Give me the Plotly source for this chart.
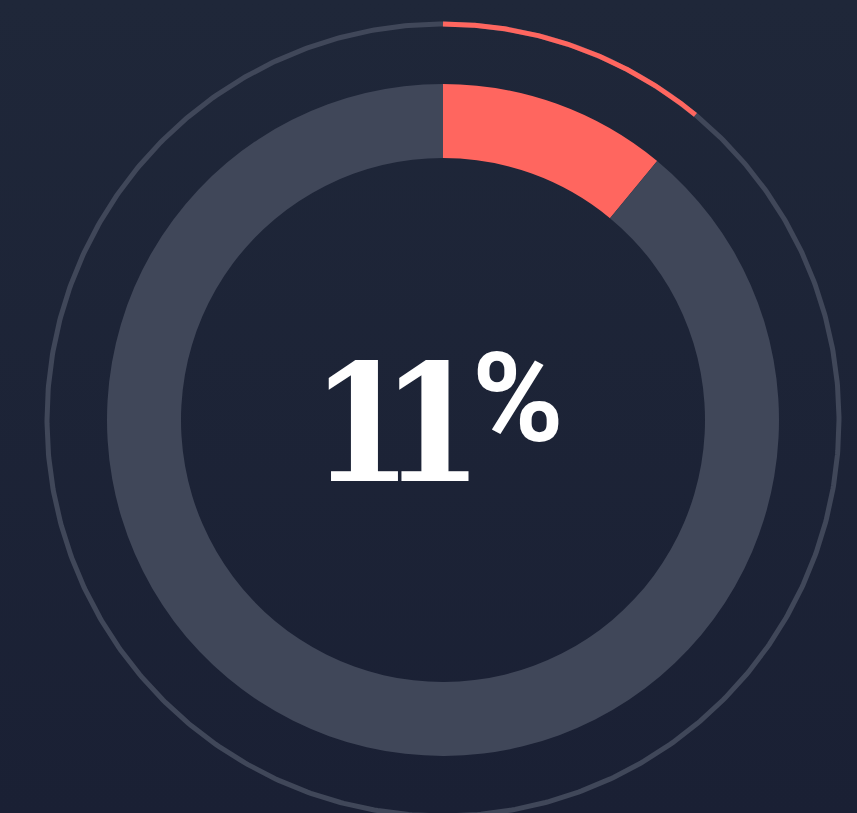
import numpy as np
import plotly.graph_objects as go

# --- data ---------------------------------------------------------------
share_pct = 11                       # headline figure
slice_labels = ["Share", "Remainder"]
slice_values = [share_pct, 100 - share_pct]
headline_number = str(share_pct)
headline_suffix = "%"

# --- look ---------------------------------------------------------------
W, H = 857, 813
BG = "#1c2337"
BG_TOP, BG_BOTTOM = "#1f2739", "#1a2034"
TRACK = "#404759"
ACCENT = "#ff665f"
CX, CY = 443, H - 420                # ring centre, in pixel units (y up)

fig = go.Figure()

# soft vertical backdrop
fig.add_trace(go.Scatter(
    x=[0, W, W, 0, 0], y=[0, 0, H, H, 0], mode="lines", fill="toself",
    line=dict(width=0), hoverinfo="skip", showlegend=False,
    fillgradient=dict(type="vertical", start=0, stop=H,
                      colorscale=[[0, BG_BOTTOM], [1, BG_TOP]])))

# outer thin progress ring
R_OUT = 396
theta_full = np.linspace(0, 2 * np.pi, 721)
fig.add_trace(go.Scatter(
    x=CX + R_OUT * np.sin(theta_full), y=CY + R_OUT * np.cos(theta_full),
    mode="lines", line=dict(color=TRACK, width=5), hoverinfo="skip",
    showlegend=False))
theta_share = np.linspace(0, 2 * np.pi * slice_values[0] / sum(slice_values), 200)
fig.add_trace(go.Scatter(
    x=CX + R_OUT * np.sin(theta_share), y=CY + R_OUT * np.cos(theta_share),
    mode="lines", line=dict(color=ACCENT, width=5), hoverinfo="skip",
    showlegend=False))

# inner thick donut
R_PIE, R_HOLE = 336, 262
fig.add_trace(go.Pie(
    labels=slice_labels, values=slice_values, sort=False,
    direction="clockwise", rotation=0, hole=R_HOLE / R_PIE,
    marker=dict(colors=[ACCENT, TRACK], line=dict(width=0)),
    textinfo="none", hoverinfo="skip", showlegend=False,
    domain=dict(x=[(CX - R_PIE) / W, (CX + R_PIE) / W],
                y=[(CY - R_PIE) / H, (CY + R_PIE) / H])))

# headline value in the middle, digits set tight
fig.add_annotation(
    x=470, y=H - 424, showarrow=False, xanchor="right", yanchor="middle",
    text=f'<span style="letter-spacing:-31px">{headline_number}</span>',
    font=dict(family="DejaVu Serif Condensed, DejaVu Serif", size=162,
              color="white", weight="bold"))
fig.add_annotation(
    x=470, y=H - 398, text=headline_suffix, showarrow=False,
    xanchor="left", yanchor="middle",
    font=dict(family="Roboto", size=124, color="white", weight="bold"))

fig.update_xaxes(range=[0, W], visible=False, fixedrange=True)
fig.update_yaxes(range=[0, H], visible=False, fixedrange=True)
fig.update_layout(width=W, height=H, margin=dict(l=0, r=0, t=0, b=0),
                  paper_bgcolor=BG, plot_bgcolor=BG)

fig.write_html("out.html")
